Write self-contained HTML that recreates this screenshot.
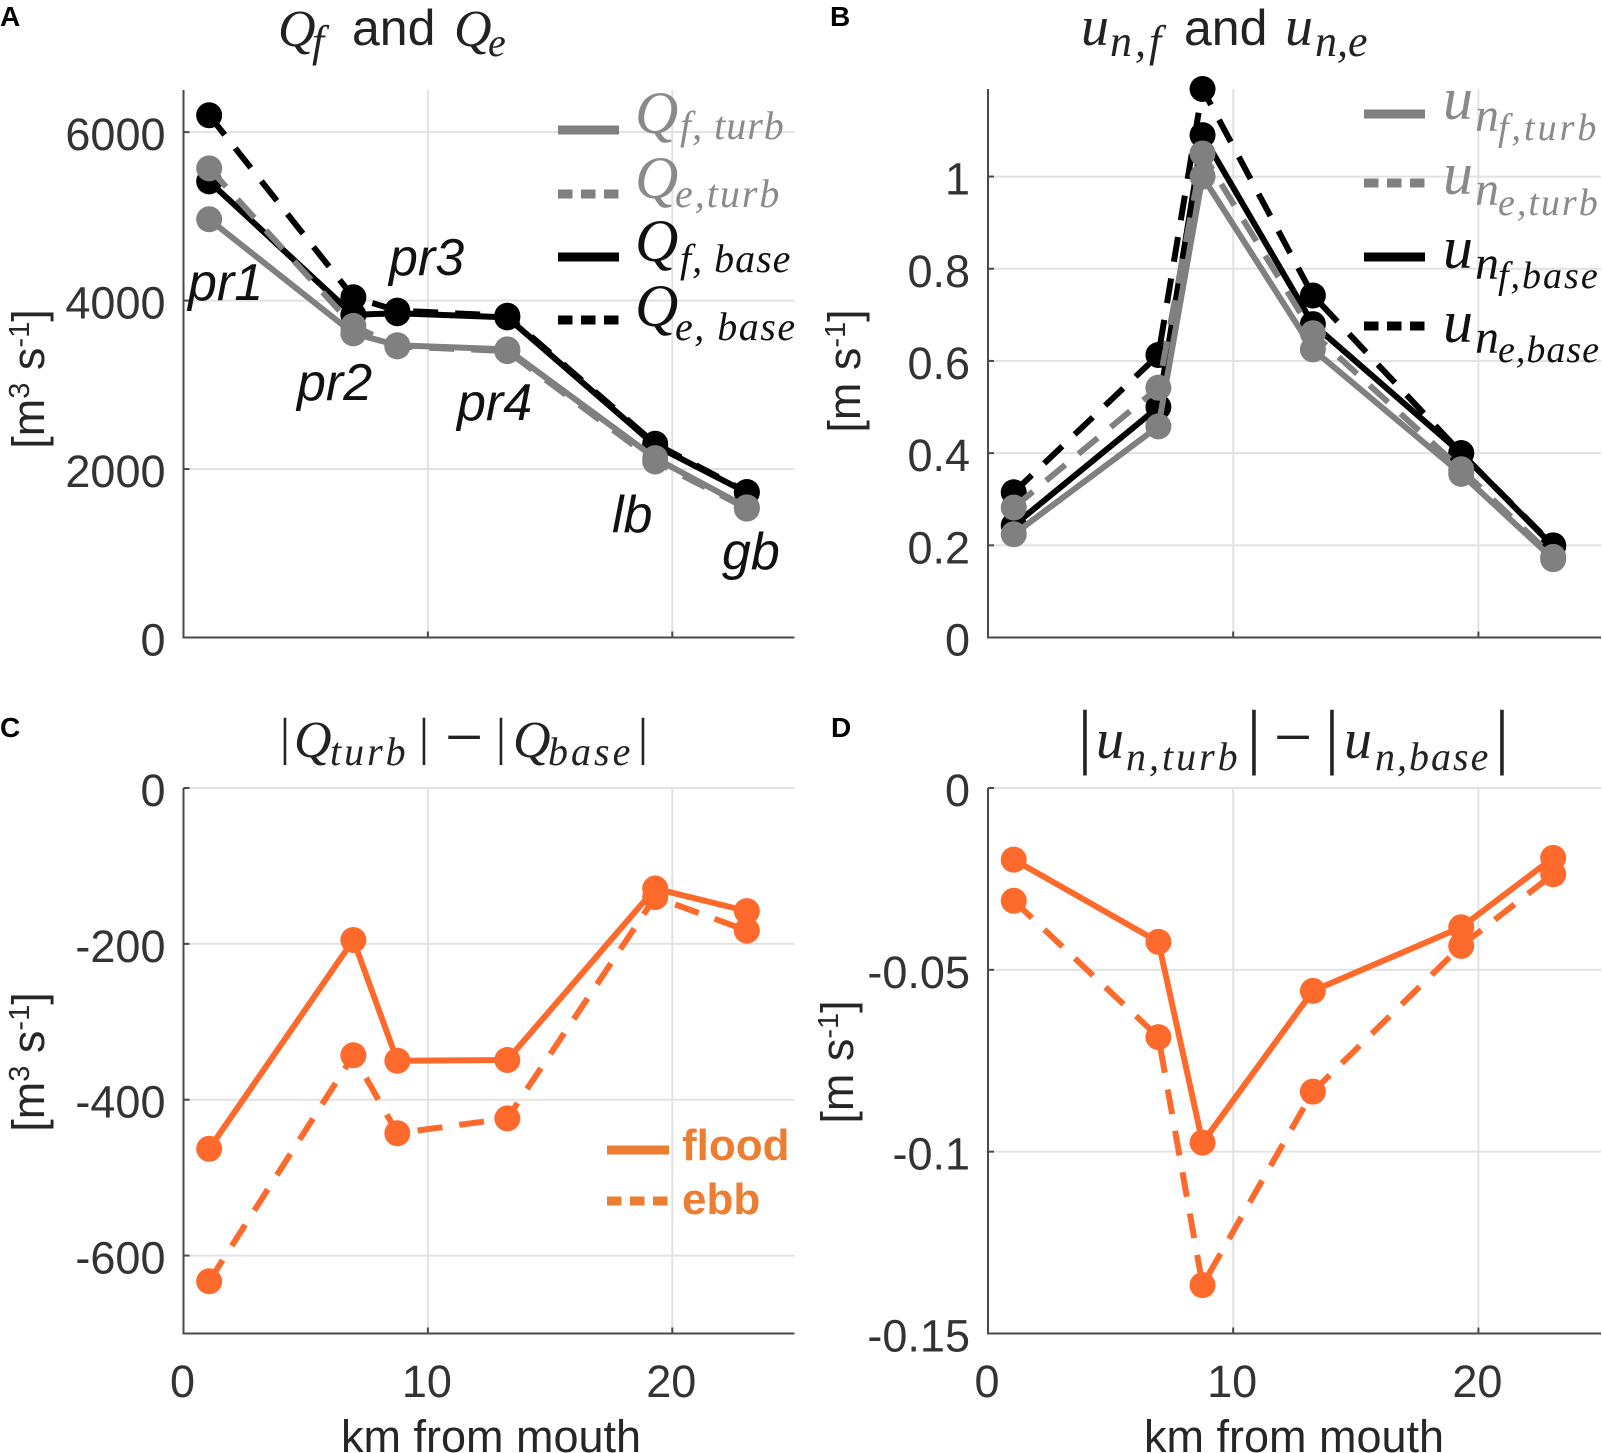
<!DOCTYPE html>
<html lang="en">
<head>
<meta charset="utf-8">
<title>Discharge and velocity along the estuary</title>
<style>
html,body{margin:0;padding:0;background:#fff;}
svg{display:block;}
text{font-family:"Liberation Sans",sans-serif;}
.m{font-family:"Liberation Serif",serif;font-style:italic;}
.b{font-family:"Liberation Serif",serif;text-anchor:middle;}
.tick{font-size:45px;fill:#333;}
.lab{font-size:45px;fill:#262626;}
.ann{font-size:52px;font-style:italic;fill:#111;}
.letter{font-size:28px;font-weight:bold;fill:#000;}
.ttl{fill:#222;}
</style>
</head>
<body>
<svg id="fig" xmlns="http://www.w3.org/2000/svg" width="1602" height="1453" viewBox="0 0 1602 1453">
<rect width="1602" height="1453" fill="#fff"/>
<g id="plots"></g>

<text class="letter" x="0" y="26">A</text>
<text class="letter" x="830" y="26">B</text>
<text class="letter" x="0" y="737">C</text>
<text class="letter" x="831" y="737">D</text>

<g class="ttl">
<text class="m" font-size="52" x="278" y="46">Q</text><text class="m" font-size="44" x="312" y="56">f</text>
<text font-size="50" x="352" y="45">and</text>
<text class="m" font-size="52" x="454" y="46">Q</text><text class="m" font-size="40" x="488" y="56">e</text>
</g>
<g class="ttl">
<text class="m" font-size="56" x="1081" y="45">u</text><text class="m" font-size="44" x="1110" y="56" letter-spacing="3">n,f</text>
<text font-size="50" x="1184" y="45">and</text>
<text class="m" font-size="56" x="1285" y="45">u</text><text class="m" font-size="44" x="1315" y="56">n,e</text>
</g>
<g class="ttl">
<text class="b" font-size="52" x="285" y="754">|</text>
<text class="m" font-size="52" x="294" y="757">Q</text><text class="m" font-size="40" x="330" y="765" letter-spacing="3">turb</text>
<text class="b" font-size="52" x="424" y="754">|</text>
<text class="b" font-size="68" x="464" y="760">−</text>
<text class="b" font-size="52" x="501" y="754">|</text>
<text class="m" font-size="52" x="513" y="757">Q</text><text class="m" font-size="40" x="548" y="765" letter-spacing="3">base</text>
<text class="b" font-size="52" x="643" y="754">|</text>
</g>
<g class="ttl">
<text class="b" font-size="72" x="1085" y="760">|</text>
<text class="m" font-size="56" x="1096" y="758">u</text><text class="m" font-size="40" x="1126" y="770" letter-spacing="3">n,turb</text>
<text class="b" font-size="72" x="1254" y="760">|</text>
<text class="b" font-size="68" x="1293" y="760">−</text>
<text class="b" font-size="72" x="1332" y="760">|</text>
<text class="m" font-size="56" x="1344" y="758">u</text><text class="m" font-size="40" x="1375" y="770" letter-spacing="2">n,base</text>
<text class="b" font-size="72" x="1502" y="760">|</text>
</g>

<g id="overlays">
<text class="ann" x="188" y="300">pr1</text>
<text class="ann" x="297" y="400">pr2</text>
<text class="ann" x="389" y="275">pr3</text>
<text class="ann" x="457" y="420">pr4</text>
<text class="ann" x="612" y="532">lb</text>
<text class="ann" x="722" y="569">gb</text>

<g>
<g><line x1="558" x2="619" y1="130" y2="130" stroke="#808080" stroke-width="9"/><text class="m" font-size="60" fill="#8a8a8a" x="635" y="133">Q</text><text class="m" font-size="40" fill="#8a8a8a" x="680" y="139" letter-spacing="1">f, turb</text></g>
<g><line x1="558" x2="619" y1="194" y2="194" stroke="#808080" stroke-width="9" stroke-dasharray="14.5 8.5"/><text class="m" font-size="60" fill="#8a8a8a" x="635" y="198">Q</text><text class="m" font-size="40" fill="#8a8a8a" x="675" y="207" letter-spacing="2">e,turb</text></g>
<g><line x1="558" x2="619" y1="257" y2="257" stroke="#000" stroke-width="9"/><text class="m" font-size="60" fill="#111" x="635" y="261">Q</text><text class="m" font-size="40" fill="#111" x="680" y="272" letter-spacing="1">f, base</text></g>
<g><line x1="558" x2="619" y1="320" y2="320" stroke="#000" stroke-width="9" stroke-dasharray="14.5 8.5"/><text class="m" font-size="60" fill="#111" x="635" y="326">Q</text><text class="m" font-size="40" fill="#111" x="675" y="340" letter-spacing="1.5">e, base</text></g>
</g>

<g>
<g><line x1="1364" x2="1425" y1="114" y2="114" stroke="#808080" stroke-width="9"/><text class="m" font-size="60" fill="#8a8a8a" x="1443" y="119">u</text><text class="m" font-size="48" fill="#8a8a8a" x="1475" y="131">n</text><text class="m" font-size="38" fill="#8a8a8a" x="1498" y="140" letter-spacing="3">f,turb</text></g>
<g><line x1="1364" x2="1425" y1="183" y2="183" stroke="#808080" stroke-width="9" stroke-dasharray="14.5 8.5"/><text class="m" font-size="60" fill="#8a8a8a" x="1443" y="194">u</text><text class="m" font-size="48" fill="#8a8a8a" x="1475" y="205">n</text><text class="m" font-size="38" fill="#8a8a8a" x="1498" y="215" letter-spacing="2">e,turb</text></g>
<g><line x1="1364" x2="1425" y1="257" y2="257" stroke="#000" stroke-width="9"/><text class="m" font-size="60" fill="#111" x="1443" y="268">u</text><text class="m" font-size="48" fill="#111" x="1475" y="279">n</text><text class="m" font-size="38" fill="#111" x="1498" y="288" letter-spacing="2">f,base</text></g>
<g><line x1="1364" x2="1425" y1="326" y2="326" stroke="#000" stroke-width="9" stroke-dasharray="14.5 8.5"/><text class="m" font-size="60" fill="#111" x="1443" y="342">u</text><text class="m" font-size="48" fill="#111" x="1475" y="353">n</text><text class="m" font-size="38" fill="#111" x="1498" y="362" letter-spacing="1">e,base</text></g>
</g>

<g>
<g><line x1="607" x2="669" y1="1150" y2="1150" stroke="#ed7d31" stroke-width="9"/><text font-size="44" font-weight="bold" fill="#ed7d31" x="682" y="1160">flood</text></g>
<g><line x1="607" x2="669" y1="1201" y2="1201" stroke="#ed7d31" stroke-width="9" stroke-dasharray="14.5 8.5"/><text font-size="44" font-weight="bold" fill="#ed7d31" x="682" y="1214">ebb</text></g>
</g>
</g>
</svg>

<script>
const stations = [1.05, 6.95, 8.75, 13.25, 19.3, 23.05];
const xTicks = [0, 10, 20];

const qeBase = [6200, 4040, 3880, 3820, 2300, 1728];
const qfBase = [5415, 3830, 3850, 3800, 2280, 1720];
const qeTurb = [5570, 3700, 3456, 3400, 2090, 1530];
const qfTurb = [4965, 3610, 3470, 3420, 2130, 1545];
const qTicks = [0, 2000, 4000, 6000];

const ueBase = [0.315, 0.613, 1.19, 0.742, 0.40, 0.20];
const ufBase = [0.243, 0.50, 1.09, 0.68, 0.40, 0.198];
const ueTurb = [0.282, 0.542, 1.05, 0.66, 0.365, 0.175];
const ufTurb = [0.224, 0.458, 1.00, 0.625, 0.355, 0.17];
const uTicks = [0, 0.2, 0.4, 0.6, 0.8, 1];

const qFloodDiff = [-463, -195, -350, -349, -129, -158];
const qEbbDiff = [-633, -343, -443, -424, -140, -183];
const qDiffTicks = [-600, -400, -200, 0];

const uFloodDiff = [-0.0197, -0.0423, -0.0975, -0.0558, -0.0383, -0.0192];
const uEbbDiff = [-0.031, -0.0685, -0.1367, -0.0835, -0.0434, -0.0237];
const uDiffTicks = [-0.15, -0.1, -0.05, 0];

const NS = 'http://www.w3.org/2000/svg';
const GREY = '#808080', BLACK = '#000000', ORANGE = '#fe6a2c';

const panels = [
  {id:'a', box:[183.5,794.5,90,637.5], xd:[0,25], yd:[0,6500], yt:qTicks, unit:['[m','3',' s','-1',']'], ylx:44, yly:379, xlab:false, xlx:0,
   series:[['qe-base',qeBase,BLACK,true],['qf-base',qfBase,BLACK,false],['qe-turb',qeTurb,GREY,true],['qf-turb',qfTurb,GREY,false]]},
  {id:'b', box:[988,1601,89,637.5], xd:[0,25], yd:[0,1.19], yt:uTicks, unit:['[m s','-1',']'], ylx:860, yly:371, xlab:false, xlx:0,
   series:[['ue-base',ueBase,BLACK,true],['uf-base',ufBase,BLACK,false],['ue-turb',ueTurb,GREY,true],['uf-turb',ufTurb,GREY,false]]},
  {id:'c', box:[183.5,794.5,788,1333.5], xd:[0,25], yd:[-700,0], yt:qDiffTicks, unit:['[m','3',' s','-1',']'], ylx:44, yly:1062, xlab:true, xlx:491,
   series:[['q-flood-diff',qFloodDiff,ORANGE,false],['q-ebb-diff',qEbbDiff,ORANGE,true]]},
  {id:'d', box:[988,1601,788,1333.5], xd:[0,25], yd:[-0.15,0], yt:uDiffTicks, unit:['[m s','-1',']'], ylx:853, yly:1062, xlab:true, xlx:1294,
   series:[['u-flood-diff',uFloodDiff,ORANGE,false],['u-ebb-diff',uEbbDiff,ORANGE,true]]}
];

function mk(tag, attrs, parent){
  const e = document.createElementNS(NS, tag);
  for (const k in attrs) e.setAttribute(k, attrs[k]);
  parent.appendChild(e);
  return e;
}

const root = document.getElementById('plots');

panels.forEach(function(p){
  const x0 = p.box[0], x1 = p.box[1], yTop = p.box[2], yBot = p.box[3];
  const sx = v => x0 + (v - p.xd[0]) / (p.xd[1] - p.xd[0]) * (x1 - x0);
  const sy = v => yBot - (v - p.yd[0]) / (p.yd[1] - p.yd[0]) * (yBot - yTop);

  const g = mk('g', {}, root);
  
  

  // gridlines
  xTicks.forEach(function(t){
    if (t === 0) return;
    const gl = mk('line', {x1:sx(t), x2:sx(t), y1:yTop, y2:yBot, stroke:'#e2e2e2', 'stroke-width':2}, g);
    
    
  });
  p.yt.forEach(function(t){
    if (sy(t) === yBot) return;
    const gl = mk('line', {x1:x0, x2:x1, y1:sy(t), y2:sy(t), stroke:'#e2e2e2', 'stroke-width':2}, g);
    
    
  });

  // axes
  const ya = mk('line', {x1:x0, x2:x0, y1:yTop, y2:yBot+1, stroke:'#4a4a4a', 'stroke-width':2}, g);
  
  
  const xa = mk('line', {x1:x0, x2:x1, y1:yBot, y2:yBot, stroke:'#4a4a4a', 'stroke-width':2}, g);
  
  

  // ticks and labels
  p.yt.forEach(function(t){
    const tk = mk('line', {x1:x0, x2:x0+6, y1:sy(t), y2:sy(t), stroke:'#4a4a4a', 'stroke-width':2}, g);
    
    
    const lb = mk('text', {x:x0-18, y:sy(t)+18, 'text-anchor':'end', class:'tick'}, g);
    
    
    lb.textContent = String(t);
  });
  xTicks.forEach(function(t){
    if (t !== 0) {
      const tk = mk('line', {x1:sx(t), x2:sx(t), y1:yBot, y2:yBot-6, stroke:'#4a4a4a', 'stroke-width':2}, g);
      
      
    }
    if (p.xlab) {
      const lb = mk('text', {x:sx(t)-1, y:1397, 'text-anchor':'middle', class:'tick'}, g);
      
      
      lb.textContent = String(t);
    }
  });
  if (p.xlab) {
    const xl = mk('text', {x:p.xlx, y:1452, 'text-anchor':'middle', class:'lab'}, g);
    
    
    xl.textContent = 'km from mouth';
  }

  // y axis title
  const yl = mk('text', {transform:'translate(' + p.ylx + ',' + p.yly + ') rotate(-90)', 'text-anchor':'middle', class:'lab'}, g);
  
  
  p.unit.forEach(function(part, i){
    const isSup = /^-?\d+$/.test(part);
    const prevSup = i > 0 && /^-?\d+$/.test(p.unit[i-1]);
    const ts = mk('tspan', {}, yl);
    if (isSup) { ts.setAttribute('font-size', '29'); ts.setAttribute('dy', '-15'); }
    else if (prevSup) { ts.setAttribute('dy', '15'); }
    ts.textContent = part;
  });

  // series
  p.series.forEach(function(s){
    const name = s[0], vals = s[1], col = s[2], dashed = s[3];
    const sg = mk('g', {}, g);
    
    
    const pts = vals.map((v, i) => sx(stations[i]) + ',' + sy(v)).join(' ');
    const pl = mk('polyline', {points:pts, fill:'none', stroke:col, 'stroke-width':6, 'stroke-linejoin':'round'}, sg);
    if (dashed) pl.setAttribute('stroke-dasharray', '25 17');
    
    
    vals.forEach(function(v, i){
      const c = mk('circle', {cx:sx(stations[i]), cy:sy(v), r:13, fill:col}, sg);
      
      
    });
  });
});
</script>
</body>
</html>
